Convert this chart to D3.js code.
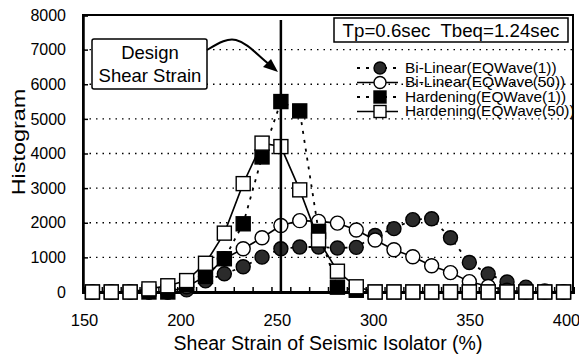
<!DOCTYPE html>
<html>
<head>
<meta charset="utf-8">
<script src="https://cdn.jsdelivr.net/npm/d3@7"></script>
<style>
  html, body { margin: 0; padding: 0; background: #fff; }
  svg { display: block; font-family: "Liberation Sans", Arial, sans-serif; }
</style>
</head>
<body>
<svg id="chart" width="579" height="357"></svg>
<script>
// ---- data ----
const strain = [150,160,170,180,190,200,210,220,230,240,250,260,270,280,290,300,310,320,330,340,350,360,370,380,390,400];
const biLinear1   = [0,0,0,0,0,60,320,525,730,1006,1250,1300,1300,1270,1290,1630,1830,2090,2115,1566,850,520,290,140,30,0];
const biLinear50  = [0,0,0,0,0,150,450,960,1250,1566,1920,2060,2040,1990,1790,1500,1220,1020,760,560,300,160,50,0,0,0];
const hardening1  = [0,0,0,0,0,200,450,960,1970,3900,5500,5230,1750,140,50,0,0,0,0,0,0,0,0,0,0,0];
const hardening50 = [0,0,0,90,180,330,830,1700,3130,4300,4200,2950,1500,600,150,0,0,0,0,0,0,0,0,0,0,0];
const seriesNames = ["Bi-Linear(EQWave(1))","Bi-Linear(EQWave(50))","Hardening(EQWave(1))","Hardening(EQWave(50))"];
const yTicks = [0,1000,2000,3000,4000,5000,6000,7000,8000];
const xTicks = [150,200,250,300,350,400];
const binEdges = [155,165,175,185,195,205,215,225,235,245,255,265,275,285,295,305,315,325,335,345,355,365,375,385,395];
const designStrain = 250;
const infoText = "Tp=0.6sec  Tbeq=1.24sec";

// ---- layout ----
const L = 83, R = 573, T = 15, B = 292;
const x = d3.scaleLinear().domain([145, 405]).range([L, R]);
const xLabel = d3.scaleLinear().domain([150, 400]).range([84, 566]);
const y = d3.scaleLinear().domain([0, 8000]).range([B, T]);
const svg = d3.select("#chart");
const FONT = "Liberation Sans, Arial, sans-serif";

// gridlines
svg.append("g").selectAll("line").data(yTicks.filter(v => v > 0 && v < 8000)).join("line")
  .attr("x1", L).attr("x2", R).attr("y1", d => y(d)).attr("y2", d => y(d))
  .attr("stroke", "#000").attr("stroke-width", 1.3).attr("stroke-dasharray", "1.5,5");

// frame
svg.append("rect").attr("x", L).attr("y", T).attr("width", R - L).attr("height", B - T)
  .attr("fill", "none").attr("stroke", "#000").attr("stroke-width", 2);

// y axis
const yAxis = svg.append("g").attr("transform", `translate(${L},0)`)
  .call(d3.axisLeft(y).tickValues(yTicks).tickSize(-5).tickPadding(17).tickFormat(d3.format("d")));
yAxis.select(".domain").attr("stroke-width", 2.5);
yAxis.selectAll(".tick line").attr("stroke-width", 1.5);
yAxis.selectAll("text").attr("font-size", 16).attr("fill", "#000").attr("font-family", FONT);

// x axis labels
const xAxis = svg.append("g").attr("transform", `translate(0,${B})`)
  .call(d3.axisBottom(xLabel).tickValues(xTicks).tickSize(0).tickPadding(22));
xAxis.select(".domain").remove();
xAxis.selectAll("text").attr("font-size", 16.5).attr("fill", "#000").attr("font-family", FONT);

// x minor ticks at bin edges
const xMinor = svg.append("g").attr("transform", `translate(0,${B})`)
  .call(d3.axisBottom(x).tickValues(binEdges).tickSize(-5).tickFormat(""));
xMinor.select(".domain").attr("stroke-width", 3);
xMinor.selectAll(".tick line").attr("stroke-width", 1.5);

// axis titles
svg.append("text").attr("x", 328).attr("y", 350).attr("text-anchor", "middle")
  .attr("font-size", 19.5).text("Shear Strain of Seismic Isolator (%)");
svg.append("text").attr("transform", "translate(25,142) rotate(-90) scale(1.3,1)").attr("text-anchor", "middle")
  .attr("font-size", 18).text("Histogram");

// series
const styles = [
  { data: biLinear1,  dash: "3,6", marker: "circle", fill: "#2b2b2b" },
  { data: biLinear50, dash: null,  marker: "circle", fill: "#fff" },
  { data: hardening1, dash: "3,6", marker: "square", fill: "#000" },
  { data: hardening50, dash: null, marker: "square", fill: "#fff" }
];
const line = d3.line().x((d, i) => x(strain[i])).y(d => y(d));

function drawMarker(g, type, fill, cx, cy, size) {
  const h = size / 2;
  if (type === "circle") {
    g.append("circle").attr("cx", cx).attr("cy", cy).attr("r", h)
      .attr("fill", fill).attr("stroke", "#000").attr("stroke-width", 1.4);
  } else {
    g.append("rect").attr("x", cx - h).attr("y", cy - h).attr("width", size).attr("height", size)
      .attr("fill", fill).attr("stroke", "#000").attr("stroke-width", 1.4);
  }
}

styles.forEach(s => {
  const g = svg.append("g");
  g.append("path").datum(s.data).attr("d", line).attr("fill", "none")
    .attr("stroke", "#000").attr("stroke-width", s.dash ? 1.8 : 1.6)
    .attr("stroke-dasharray", s.dash);
  s.data.forEach((v, i) => drawMarker(g, s.marker, s.fill, x(strain[i]), y(v), 14));
});

// design strain vertical line
svg.append("line").attr("x1", x(designStrain)).attr("x2", x(designStrain))
  .attr("y1", 20).attr("y2", B).attr("stroke", "#000").attr("stroke-width", 2.5);

// legend
const legY = [68, 82.5, 97, 111.5];
styles.forEach((s, i) => {
  const g = svg.append("g");
  g.append("line").attr("x1", 357).attr("x2", 398).attr("y1", legY[i]).attr("y2", legY[i])
    .attr("stroke", "#000").attr("stroke-width", s.dash ? 1.8 : 1.6).attr("stroke-dasharray", s.dash);
  drawMarker(g, s.marker, s.fill, 380, legY[i], 12);
  g.append("text").attr("transform", `translate(405,${legY[i]}) scale(1.1,1)`).attr("dy", "0.35em")
    .attr("font-size", 14).text(seriesNames[i]);
});

// info box
svg.append("rect").attr("x", 334).attr("y", 18).attr("width", 234).attr("height", 24)
  .attr("fill", "#fff").attr("stroke", "#000").attr("stroke-width", 1.5);
svg.append("text").attr("x", 451).attr("y", 30).attr("dy", "0.35em").attr("text-anchor", "middle")
  .attr("font-size", 18.7).style("white-space", "pre").text(infoText);

// design strain callout
svg.append("rect").attr("x", 92).attr("y", 39).attr("width", 115).attr("height", 50).attr("rx", 2)
  .attr("fill", "#fff").attr("stroke", "#000").attr("stroke-width", 1.5);
svg.append("text").attr("x", 150).attr("y", 59).attr("text-anchor", "middle").attr("font-size", 18.5).text("Design");
svg.append("text").attr("x", 150).attr("y", 82).attr("text-anchor", "middle").attr("font-size", 18.5).text("Shear Strain");
svg.append("path").attr("d", "M207,50 C220,42 228,38 236,40 C248,43 258,56 270,65")
  .attr("fill", "none").attr("stroke", "#000").attr("stroke-width", 2);
svg.append("path").attr("d", "M278,72 L263,67 L271,59 Z").attr("fill", "#000");
</script>
</body>
</html>
